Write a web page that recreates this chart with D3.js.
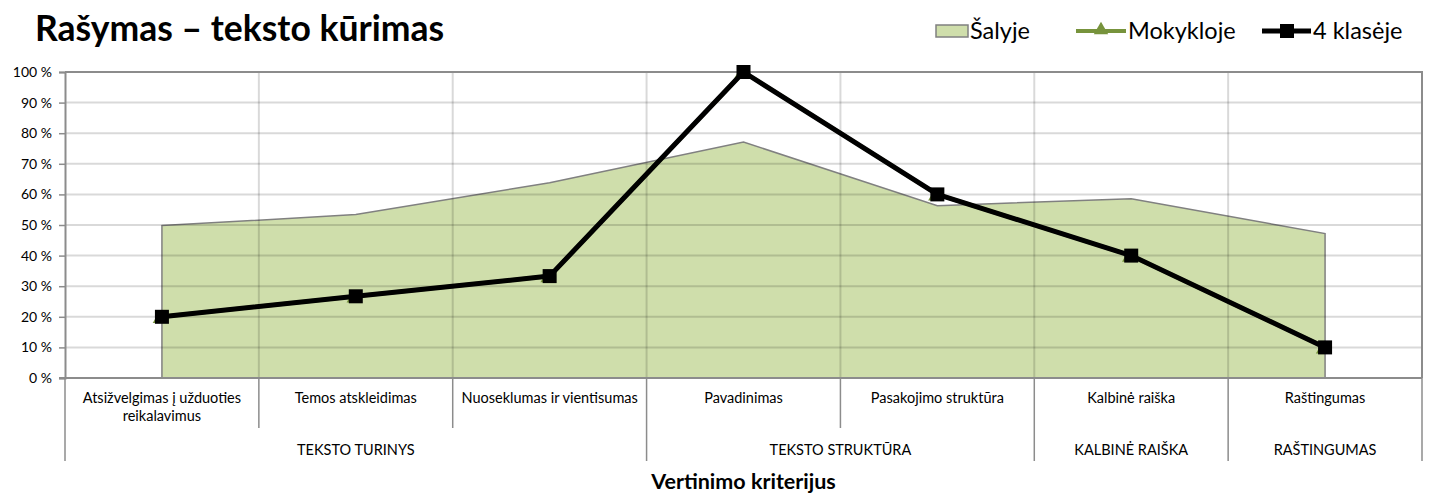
<!DOCTYPE html>
<html>
<head>
<meta charset="utf-8">
<script src="https://cdn.jsdelivr.net/npm/d3@7"></script>
<style>
  body { margin: 0; background: #fff; }
  svg { font-family: Lato, 'Liberation Sans', sans-serif; }
</style>
</head>
<body>
<div id="chart"></div>
<script>
// data
const categories = ['Atsižvelgimas į užduoties reikalavimus', 'Temos atskleidimas', 'Nuoseklumas ir vientisumas',
  'Pavadinimas', 'Pasakojimo struktūra', 'Kalbinė raiška', 'Raštingumas']
const catLines = [['Atsižvelgimas į užduoties', 'reikalavimus'], ['Temos atskleidimas'], ['Nuoseklumas ir vientisumas'],
  ['Pavadinimas'], ['Pasakojimo struktūra'], ['Kalbinė raiška'], ['Raštingumas']]
const groups = ['TEKSTO TURINYS', 'TEKSTO STRUKTŪRA', 'KALBINĖ RAIŠKA', 'RAŠTINGUMAS']
const groupSpans = [3, 2, 1, 1]
const salyje = [49.8, 53.4, 63.8, 77.1, 56.3, 58.6, 47.2]
const mokykloje = [20, 26.7, 33.3, 100, 60, 40, 10]
const klaseje = [20, 26.7, 33.3, 100, 60, 40, 10]
const yTicks = [0, 10, 20, 30, 40, 50, 60, 70, 80, 90, 100]

const w = 1454
const h = 496
const pLeft = 65, pRight = 1422, pTop = 72, pBottom = 378

const svg = d3.select('#chart').append('svg')
  .attr('width', w)
  .attr('height', h)

const x = d3.scaleBand().domain(categories).range([pLeft, pRight])
const cx = (i) => x(categories[i]) + x.bandwidth() / 2
const y = d3.scaleLinear().domain([0, 100]).range([pBottom, pTop])

// area Šalyje
const area = d3.area()
  .x((d, i) => cx(i))
  .y0(y(0))
  .y1((d) => y(d))
svg.append('path')
  .datum(salyje)
  .attr('d', area)
  .attr('fill', '#cfdeab')
  .attr('stroke', '#808080')
  .attr('stroke-width', 1.5)

// gridlines drawn over the area
svg.append('g')
  .selectAll('line')
  .data(yTicks.slice(1, -1))
  .enter()
  .append('line')
  .attr('x1', pLeft).attr('x2', pRight)
  .attr('y1', (d) => y(d)).attr('y2', (d) => y(d))
  .attr('stroke', 'rgba(0,0,0,0.15)')
  .attr('stroke-width', 2)

svg.append('g')
  .selectAll('line')
  .data(categories.slice(1))
  .enter()
  .append('line')
  .attr('x1', (d) => x(d)).attr('x2', (d) => x(d))
  .attr('y1', pTop).attr('y2', pBottom)
  .attr('stroke', 'rgba(0,0,0,0.15)')
  .attr('stroke-width', 2)

// plot border
svg.append('path')
  .attr('d', `M${pLeft},${pTop}H${pRight}V${pBottom}`)
  .attr('fill', 'none')
  .attr('stroke', '#8c8c8c')
  .attr('stroke-width', 2)

// y axis
const yAxis = d3.axisLeft(y)
  .tickValues(yTicks)
  .tickFormat((d) => d + ' %')
  .tickSize(6)
  .tickPadding(7)
const gy = svg.append('g')
  .attr('transform', 'translate(' + pLeft + ',0)')
  .call(yAxis)
gy.select('.domain').attr('stroke', '#8c8c8c').attr('stroke-width', 2)
gy.selectAll('.tick line').attr('stroke', '#8c8c8c').attr('stroke-width', 1.5)
gy.selectAll('.tick text')
  .attr('font-family', 'Lato, sans-serif')
  .attr('font-size', '14px')
  .attr('fill', '#000')

// x axis line
svg.append('line')
  .attr('x1', pLeft - 6).attr('x2', pRight)
  .attr('y1', pBottom).attr('y2', pBottom)
  .attr('stroke', '#8c8c8c')
  .attr('stroke-width', 2)

// category separators and labels
const groupBounds = [0]
groupSpans.forEach((s) => groupBounds.push(groupBounds[groupBounds.length - 1] + s))
const edge = (i) => i < categories.length ? x(categories[i]) : pRight

for (let i = 0; i <= categories.length; i++) {
  const isGroup = groupBounds.includes(i)
  svg.append('line')
    .attr('x1', edge(i)).attr('x2', edge(i))
    .attr('y1', pBottom).attr('y2', isGroup ? 461 : 428)
    .attr('stroke', '#8c8c8c')
    .attr('stroke-width', 1.5)
}

svg.append('g')
  .selectAll('text')
  .data(catLines)
  .enter()
  .append('text')
  .attr('x', (d, i) => cx(i))
  .attr('y', 403)
  .attr('text-anchor', 'middle')
  .attr('font-size', '14.5px')
  .attr('fill', '#000')
  .each(function (d) {
    const tx = d3.select(this).attr('x')
    d3.select(this).selectAll('tspan')
      .data(d)
      .enter()
      .append('tspan')
      .attr('x', tx)
      .attr('dy', (t, j) => j === 0 ? 0 : 18)
      .text((t) => t)
  })

svg.append('g')
  .selectAll('text')
  .data(groups)
  .enter()
  .append('text')
  .attr('x', (d, i) => (edge(groupBounds[i]) + edge(groupBounds[i + 1])) / 2)
  .attr('y', 455)
  .attr('text-anchor', 'middle')
  .attr('font-size', '14.5px')
  .attr('fill', '#000')
  .text((d) => d)

svg.append('text')
  .attr('x', (pLeft + pRight) / 2)
  .attr('y', 489)
  .attr('text-anchor', 'middle')
  .attr('font-size', '21.5px')
  .attr('font-weight', 'bold')
  .text('Vertinimo kriterijus')

// Mokykloje line (hidden under 4 klasėje)
const line = d3.line().x((d, i) => cx(i)).y((d) => y(d))
svg.append('path')
  .datum(mokykloje)
  .attr('d', line)
  .attr('fill', 'none')
  .attr('stroke', '#77933c')
  .attr('stroke-width', 4)
const tri = d3.symbol().type(d3.symbolTriangle).size(90)
svg.append('g')
  .selectAll('path')
  .data(mokykloje)
  .enter()
  .append('path')
  .attr('d', tri)
  .attr('transform', (d, i) => 'translate(' + (cx(i) - 2) + ',' + (y(d) + 2) + ')')
  .attr('fill', '#77933c')

// 4 klasėje line
svg.append('path')
  .datum(klaseje)
  .attr('d', line)
  .attr('fill', 'none')
  .attr('stroke', '#000')
  .attr('stroke-width', 5)
  .attr('stroke-linejoin', 'round')
svg.append('g')
  .selectAll('rect')
  .data(klaseje)
  .enter()
  .append('rect')
  .attr('x', (d, i) => cx(i) - 7)
  .attr('y', (d) => y(d) - 7)
  .attr('width', 14)
  .attr('height', 14)
  .attr('fill', '#000')

// title
svg.append('text')
  .attr('x', 35)
  .attr('y', 41)
  .attr('font-size', '35.5px')
  .attr('font-weight', 'bold')
  .text('Rašymas – teksto kūrimas')

// legend
const lg = svg.append('g').attr('font-size', '23.5px')
lg.append('rect')
  .attr('x', 936).attr('y', 25).attr('width', 32).attr('height', 12)
  .attr('fill', '#cfdeab').attr('stroke', '#808080').attr('stroke-width', 1.5)
lg.append('text').attr('x', 970).attr('y', 39).text('Šalyje')

lg.append('line')
  .attr('x1', 1076).attr('x2', 1126).attr('y1', 31).attr('y2', 31)
  .attr('stroke', '#77933c').attr('stroke-width', 4)
lg.append('path')
  .attr('d', tri)
  .attr('transform', 'translate(1101,30)')
  .attr('fill', '#77933c')
lg.append('text').attr('x', 1128).attr('y', 39).text('Mokykloje')

lg.append('line')
  .attr('x1', 1262).attr('x2', 1311).attr('y1', 31).attr('y2', 31)
  .attr('stroke', '#000').attr('stroke-width', 5)
lg.append('rect')
  .attr('x', 1280).attr('y', 24).attr('width', 14).attr('height', 14)
  .attr('fill', '#000')
lg.append('text').attr('x', 1313).attr('y', 39).text('4 klasėje')
</script>
</body>
</html>
